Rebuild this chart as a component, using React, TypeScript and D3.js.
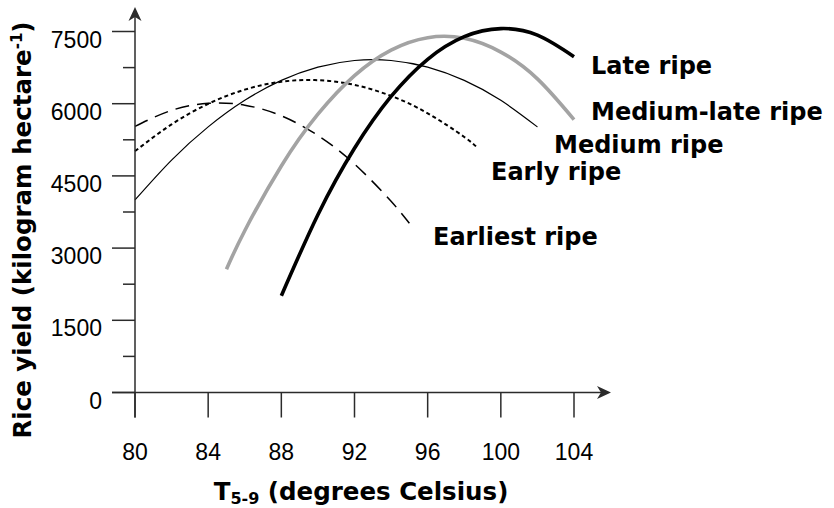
import React from 'react';
import * as d3 from 'd3';

// temperature (x) and yield (y) samples
const earliestT = [80, 82, 84, 86, 88, 90, 92, 94, 95];
const earliestY = [5530, 5861, 6008, 5970, 5748, 5340, 4748, 3972, 3515];

const earlyT = [80, 82, 84, 86, 88, 90, 92, 94, 96, 98, 98.7];
const earlyY = [5014, 5571, 5997, 6292, 6456, 6489, 6391, 6161, 5801, 5309, 5090];

const mediumT = [80, 82, 84, 86, 88, 90, 92, 94, 96, 98, 100, 102];
const mediumY = [4000, 4828, 5518, 6070, 6484, 6760, 6898, 6898, 6760, 6484, 6070, 5518];

const mediumLateT = [85, 86, 88, 90, 92, 94, 96, 98, 100, 102, 104];
const mediumLateY = [2560, 3361, 4707, 5782, 6584, 7114, 7372, 7359, 7073, 6516, 5670];

const lateT = [88, 90, 92, 94, 96, 98, 100, 102, 104];
const lateY = [2010, 3694, 5074, 6150, 6923, 7393, 7560, 7423, 6975];

const xTicks = [80, 84, 88, 92, 96, 100, 104];
const yTicks = [0, 1500, 3000, 4500, 6000, 7500];
const yMinorTicks = [750, 2250, 3750, 5250, 6750];

const seriesNames = ['Earliest ripe', 'Early ripe', 'Medium ripe', 'Medium-late ripe', 'Late ripe'];

const width = 834;
const height = 508;
const axisColor = '#2b2b2b';
const labelFont = '"DejaVu Sans", Verdana, sans-serif';
const tickFont = '"Liberation Sans", Arial, sans-serif';

export default function App() {
  const x = d3.scaleLinear().domain([80, 104]).range([135, 574]);
  const y = d3.scaleLinear().domain([0, 7500]).range([392.5, 31.5]);

  const line = d3
    .line<[number, number]>()
    .x((d) => x(d[0]))
    .y((d) => y(d[1]))
    .curve(d3.curveNatural);

  const zip = (ts: number[], vs: number[]) => ts.map((t, i) => [t, vs[i]] as [number, number]);

  const series = [
    { name: seriesNames[0], pts: zip(earliestT, earliestY), stroke: '#000', w: 1.5, dash: '14 8', lx: 433, ly: 245 },
    { name: seriesNames[1], pts: zip(earlyT, earlyY), stroke: '#000', w: 2, dash: '4 3', lx: 491, ly: 180 },
    { name: seriesNames[2], pts: zip(mediumT, mediumY), stroke: '#000', w: 1.2, dash: null, lx: 554, ly: 153 },
    { name: seriesNames[3], pts: zip(mediumLateT, mediumLateY), stroke: '#a3a3a3', w: 3.6, dash: null, lx: 591, ly: 120 },
    { name: seriesNames[4], pts: zip(lateT, lateY), stroke: '#000', w: 3.6, dash: null, lx: 591, ly: 74 },
  ];

  const x0 = x(80);
  const y0 = y(0);

  return (
    <svg
      width={width}
      height={height}
      style={{ position: 'absolute', left: 0, top: 0, background: '#fff' }}
    >
      {/* curves */}
      {series.map((s) => (
        <path
          key={s.name}
          d={line(s.pts) || ''}
          fill="none"
          stroke={s.stroke}
          strokeWidth={s.w}
          strokeDasharray={s.dash || undefined}
        />
      ))}

      {/* axes */}
      <g stroke={axisColor} strokeWidth={1.5}>
        <line x1={x0} x2={x0} y1={y0 + 25} y2={14} />
        <line x1={112} x2={603} y1={y0} y2={y0} />
        {yTicks.map((t) => (
          <line key={'yt' + t} x1={112} x2={x0} y1={y(t)} y2={y(t)} />
        ))}
        {yMinorTicks.map((t) => (
          <line key={'ym' + t} x1={123} x2={x0} y1={y(t)} y2={y(t)} />
        ))}
        {xTicks.map((t) => (
          <line key={'xt' + t} x1={x(t)} x2={x(t)} y1={y0} y2={y0 + 25} />
        ))}
      </g>
      <path d={`M${x0},7 L${x0 + 6.5},21 L${x0},17 L${x0 - 6.5},21 Z`} fill={axisColor} />
      <path d={`M611,${y0} L597,${y0 - 6.5} L601,${y0} L597,${y0 + 6.5} Z`} fill={axisColor} />

      {/* tick labels */}
      <g fontFamily={tickFont} fontSize={23} fill="#000">
        {yTicks.map((t) => (
          <text key={'yl' + t} x={102} y={y(t) + 16} textAnchor="end">
            {t}
          </text>
        ))}
        {xTicks.map((t) => (
          <text key={'xl' + t} x={x(t)} y={460} textAnchor="middle">
            {t}
          </text>
        ))}
      </g>

      {/* axis titles */}
      <text x={361} y={500} textAnchor="middle" fontFamily={labelFont} fontWeight="bold" fontSize={24.5}>
        T<tspan fontSize={16} dy={4}>5-9</tspan>
        <tspan dy={-4}> (degrees Celsius)</tspan>
      </text>
      <text
        transform="translate(31,230) rotate(-90)"
        textAnchor="middle"
        fontFamily={labelFont}
        fontWeight="bold"
        fontSize={24.5}
      >
        Rice yield (kilogram hectare<tspan fontSize={15} dy={-9}>-1</tspan>
        <tspan dy={9}>)</tspan>
      </text>

      {/* series labels */}
      <g fontFamily={labelFont} fontWeight="bold" fontSize={24} fill="#000">
        {series.map((s) => (
          <text key={'lab' + s.name} x={s.lx} y={s.ly}>
            {s.name}
          </text>
        ))}
      </g>
    </svg>
  );
}
